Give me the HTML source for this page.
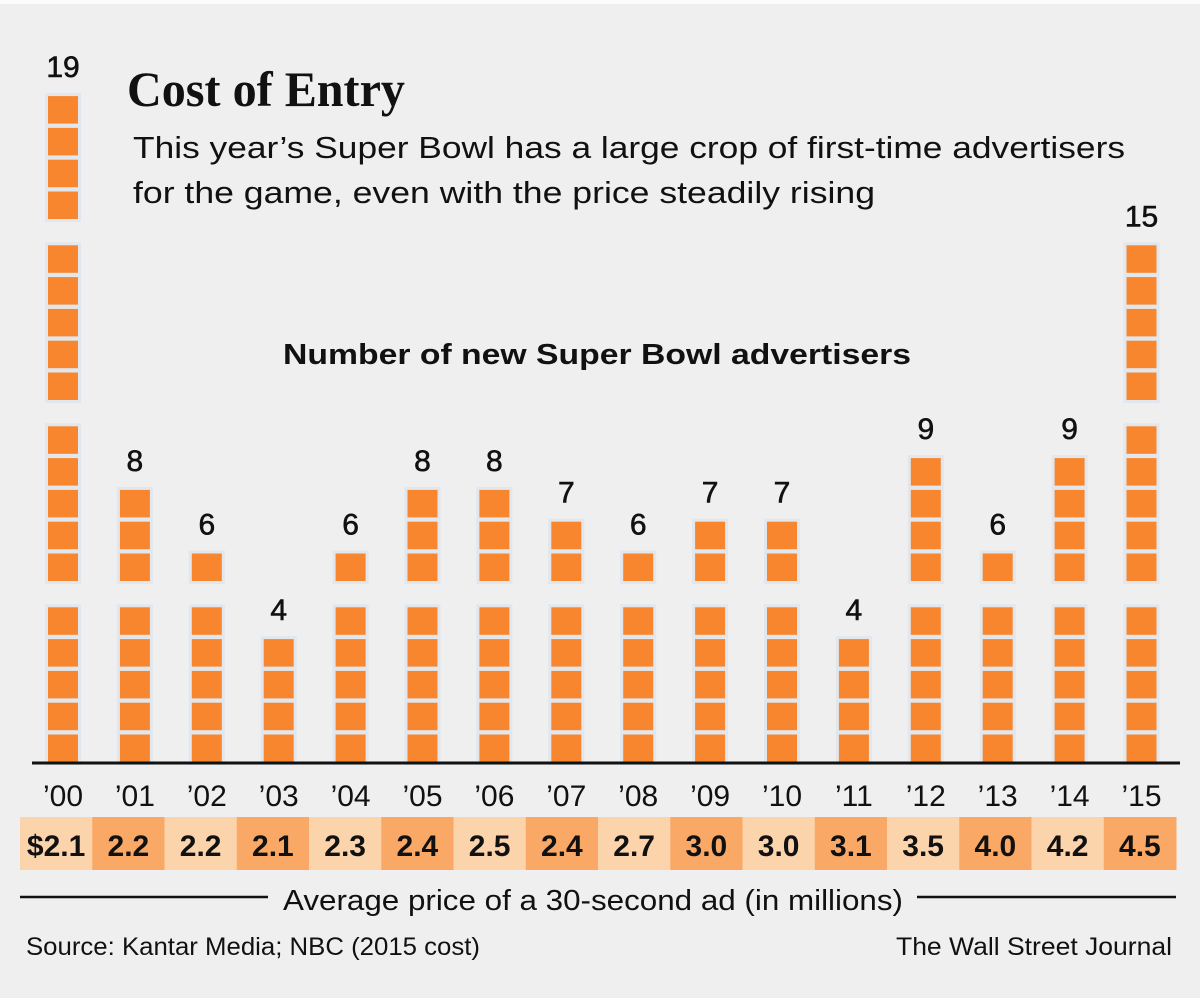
<!DOCTYPE html>
<html><head><meta charset="utf-8"><style>
html,body{margin:0;padding:0;background:#efefef;}
svg{display:block;}
</style></head><body>
<svg id="chart" width="1200" height="998" viewBox="0 0 1200 998" xmlns="http://www.w3.org/2000/svg">
<rect x="0" y="0" width="1200" height="998" fill="#efefef"/>
<rect x="0" y="0" width="1200" height="4" fill="#fbfbfb"/>
<text x="127" y="106" font-family="Liberation Serif, serif" font-weight="bold" font-size="50" textLength="278" lengthAdjust="spacingAndGlyphs" fill="#111">Cost of Entry</text>
<text x="133" y="158" font-family="Liberation Sans, sans-serif" font-size="31" textLength="992" lengthAdjust="spacingAndGlyphs" fill="#111">This year’s Super Bowl has a large crop of first-time advertisers</text>
<text x="133" y="203" font-family="Liberation Sans, sans-serif" font-size="31" textLength="742" lengthAdjust="spacingAndGlyphs" fill="#111">for the game, even with the price steadily rising</text>
<text x="597" y="364" text-anchor="middle" font-family="Liberation Sans, sans-serif" font-weight="bold" font-size="29" textLength="628" lengthAdjust="spacingAndGlyphs" fill="#111">Number of new Super Bowl advertisers</text>
<g id="bars"></g>
<line x1="32" y1="763" x2="1180" y2="763" stroke="#111" stroke-width="3"/>
<g id="years"></g>
<g id="prices"></g>
<line x1="20" y1="897" x2="268" y2="897" stroke="#111" stroke-width="2.5"/>
<line x1="917" y1="897" x2="1176" y2="897" stroke="#111" stroke-width="2.5"/>
<text x="593" y="910" text-anchor="middle" font-family="Liberation Sans, sans-serif" font-size="29" textLength="620" lengthAdjust="spacingAndGlyphs" fill="#111">Average price of a 30-second ad (in millions)</text>
<text x="26" y="955" font-family="Liberation Sans, sans-serif" font-size="25" textLength="454" lengthAdjust="spacingAndGlyphs" fill="#111">Source: Kantar Media; NBC (2015 cost)</text>
<text x="1172" y="955" text-anchor="end" font-family="Liberation Sans, sans-serif" font-size="25" textLength="276" lengthAdjust="spacingAndGlyphs" fill="#111">The Wall Street Journal</text>
</svg>
<script>
const years = ["’00","’01","’02","’03","’04","’05","’06","’07","’08","’09","’10","’11","’12","’13","’14","’15"];
const advertisers = [19,8,6,4,6,8,8,7,6,7,7,4,9,6,9,15];
const prices = ["$2.1","2.2","2.2","2.1","2.3","2.4","2.5","2.4","2.7","3.0","3.0","3.1","3.5","4.0","4.2","4.5"];

const NS = "http://www.w3.org/2000/svg";
const baseY = 762, pitch = 31.8, blockH = 27.5, groupExtra = 22, blockW = 30;
function xCenter(i){ return 63 + i * 71.9; }
function unitBottom(k){ return baseY - k * pitch - Math.floor(k / 5) * groupExtra; }
function mk(tag, attrs){ const e = document.createElementNS(NS, tag); for (const k in attrs) e.setAttribute(k, attrs[k]); return e; }

const bars = document.getElementById('bars');
advertisers.forEach((v, i) => {
  const cx = xCenter(i);
  const g = mk('g', {});
  
  
  let topY = baseY;
  for (let k = 0; k < v; k++) {
    const b = unitBottom(k);
    const halo = mk('rect', {x: cx - blockW/2 - 3, y: b - blockH - 3, width: blockW + 6, height: blockH + 6, fill: '#e1e7ec'});
    
    
    g.appendChild(halo);
    topY = b - blockH;
  }
  for (let k = 0; k < v; k++) {
    const b = unitBottom(k);
    const r = mk('rect', {x: cx - blockW/2, y: b - blockH, width: blockW, height: blockH, fill: '#f7862f'});
    
    
    g.appendChild(r);
  }
  const t = mk('text', {x: cx, y: topY - 19, 'text-anchor': 'middle', 'font-family': 'Liberation Sans, sans-serif', 'font-size': '30', fill: '#111', stroke: '#111', 'stroke-width': '0.6'});
  t.textContent = v;
  
  
  g.appendChild(t);
  bars.appendChild(g);
});

const yg = document.getElementById('years');
years.forEach((y, i) => {
  const t = mk('text', {x: xCenter(i), y: 806, 'text-anchor': 'middle', 'font-family': 'Liberation Sans, sans-serif', 'font-size': '30', fill: '#111'});
  t.textContent = y;
  
  
  yg.appendChild(t);
});

const pg = document.getElementById('prices');
const cellW = (1176 - 20) / prices.length;
prices.forEach((p, i) => {
  const r = mk('rect', {x: 20 + i * cellW, y: 817, width: cellW + 0.5, height: 53, fill: i % 2 ? '#f9a866' : '#fcd4ac'});
  
  
  pg.appendChild(r);
  const t = mk('text', {x: 20 + i * cellW + cellW / 2, y: 856, 'text-anchor': 'middle', 'font-family': 'Liberation Sans, sans-serif', 'font-size': '30', 'font-weight': 'bold', fill: '#111'});
  t.textContent = p;
  
  
  pg.appendChild(t);
});
</script>
</body></html>
